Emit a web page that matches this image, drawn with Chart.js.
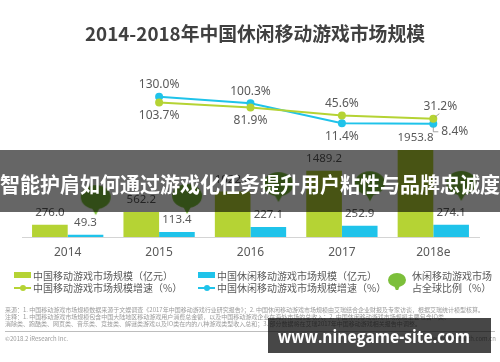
<!DOCTYPE html>
<html lang="zh-CN">
<head>
<meta charset="utf-8">
<script src="https://cdn.jsdelivr.net/npm/chart.js@4.4.1/dist/chart.umd.min.js"></script>
<style>
  html, body { margin: 0; padding: 0; background: #fff; }
  #wrap { position: relative; width: 500px; height: 362px; overflow: hidden;
          font-family: "Noto Sans CJK SC", "Noto Sans", sans-serif; color: #595959; }
  #box { position: absolute; left: 0; top: 0; width: 500px; height: 362px; }
  .abs { position: absolute; white-space: nowrap; }
  #title { left: 85px; top: 19px; font-size: 19px; font-weight: bold; color: #404040; transform-origin: 0 0; }
  .lg { font-size: 10px; line-height: 12px; color: #595959; }
  .sw { position: absolute; width: 17px; height: 6px; }
  .ln { position: absolute; width: 17px; height: 2px; }
  .dot { position: absolute; width: 6px; height: 6px; border-radius: 50%; }
  .note { font-size: 6px; line-height: 7px; color: #9a9a9a; left: 5px; }
  #rule { position: absolute; left: 5px; width: 490px; top: 331px; height: 1px; background: #bdbdbd; }
  #band { position: absolute; left: 0; top: 150px; width: 500px; height: 62px; background: rgba(0,0,0,0.6); }
  #bandText { left: 0; top: 167px; font-size: 21px; line-height: 32px; font-weight: bold; color: #fff; transform-origin: 0 0; }
  #mark { position: absolute; left: 268px; top: 318px; width: 223px; height: 35px; background: rgba(0,0,0,0.72); }
  #markText { left: 278px; top: 326px; font-family: "Open Sans", sans-serif;
              font-weight: bold; font-size: 17px; line-height: 22px; color: #fff; transform-origin: 0 0; }
</style>
</head>
<body>
<div id="wrap">
  <div id="box"><canvas id="chart"></canvas></div>
  <div id="title" class="abs">2014-2018年中国休闲移动游戏市场规模</div>

  <!-- legend -->
  <div class="sw" style="left:14px;top:272px;background:#b5d334"></div>
  <div class="abs lg" style="left:33px;top:270px">中国移动游戏市场规模（亿元）</div>
  <div class="sw" style="left:198px;top:272px;background:#1fc3ea"></div>
  <div class="abs lg" style="left:217px;top:270px">中国休闲移动游戏市场规模（亿元）</div>
  <div class="ln" style="left:14px;top:287px;background:#b5d334"></div>
  <div class="dot" style="left:20px;top:285px;background:#b5d334"></div>
  <div class="abs lg" style="left:33px;top:282px">中国移动游戏市场规模增速（%）</div>
  <div class="ln" style="left:198px;top:287px;background:#1fc3ea"></div>
  <div class="dot" style="left:204px;top:285px;background:#1fc3ea"></div>
  <div class="abs lg" style="left:217px;top:282px">中国休闲移动游戏市场规模增速（%）</div>
  <canvas id="legendBubble" class="abs" width="20" height="18" style="left:387px;top:272px"></canvas>
  <div class="abs lg" style="left:412px;top:270px">休闲移动游戏市场</div>
  <div class="abs lg" style="left:412px;top:282px">占全球比例（%）</div>

  <!-- notes -->
  <div class="abs note" style="top:306px">来源：1. 中国移动游戏市场规模数据来源于文娱调查《2017年中国移动游戏行业研究报告》；2. 中国休闲移动游戏市场规模由艾瑞结合企业财报及专家访谈，根据艾瑞统计模型核算。</div>
  <div class="abs note" style="top:313px">注释：1. 中国移动游戏市场规模包含中国大陆地区移动游戏用户消费总金额，以及中国移动游戏企业在海外市场的总收入；2. 中国休闲移动游戏市场规模主要包含IO类、</div>
  <div class="abs note" style="top:320px">消除类、跑酷类、网页类、音乐类、竞技类、解谜类游戏以及IO类在内的八种游戏类型收入总和；3. 部分数据将在艾瑞2017年中国移动游戏相关报告中调整。</div>
  <div id="rule"></div>
  <div class="abs note" style="top:335px">©2018.2 iResearch Inc.</div>
  <div class="abs note" style="top:335px;left:auto;right:4px">www.iresearch.com.cn</div>

  <div id="band"></div>
  <div id="bandText" class="abs">智能护肩如何通过游戏化任务提升用户粘性与品牌忠诚度</div>
  <div id="mark"></div>
  <div id="markText" class="abs">www.ninegame-site.com</div>
</div>

<script>
var years = ['2014', '2015', '2016', '2017', '2018e'];
var mobileMarket = [276.0, 562.2, 1022.6, 1489.2, 1953.8];
var casualMarket = [49.3, 113.4, 227.1, 252.9, 274.1];
var mobileGrowth = [null, 103.7, 81.9, 45.6, 31.2];
var casualGrowth = [null, 130.0, 100.3, 11.4, 8.4];
var casualShare = [22.1, 22.8, 29.9, 30.4, 30.6];

var green = '#b5d334';
var cyan = '#1fc3ea';
var bubbleGreen = '#7cbf3a';

// squeeze a text block to a given pixel width
function fitWidth(id, w) {
  var el = document.getElementById(id);
  el.style.transform = 'scaleX(' + (w / el.getBoundingClientRect().width) + ')';
}
fitWidth('title', 340);
fitWidth('bandText', 500);
fitWidth('markText', 192);

function drawBubble(ctx, cx, cy, rx, ry) {
  ctx.fillStyle = bubbleGreen;
  ctx.beginPath();
  ctx.ellipse(cx, cy, rx, ry, 0, 0, Math.PI * 2);
  ctx.fill();
  ctx.beginPath();
  ctx.moveTo(cx - rx * 0.35, cy + ry * 0.7);
  ctx.lineTo(cx + rx * 0.35, cy + ry * 0.7);
  ctx.lineTo(cx, cy + ry + 6);
  ctx.closePath();
  ctx.fill();
}

// point image: bubble sits to the right of the category centre
var bubbleImg = document.createElement('canvas');
bubbleImg.width = 88;
bubbleImg.height = 34;
drawBubble(bubbleImg.getContext('2d'), 72, 14, 15, 12);

var lb = document.getElementById('legendBubble').getContext('2d');
drawBubble(lb, 10, 8, 9, 7);

var labelPlugin = {
  id: 'valueLabels',
  afterDatasetsDraw: function (chart) {
    var ctx = chart.ctx;
    ctx.save();
    ctx.fillStyle = '#595959';
    ctx.textAlign = 'center';
    ctx.textBaseline = 'middle';
    ctx.font = '11.5px "Noto Sans", sans-serif';
    [0, 1].forEach(function (di) {
      chart.getDatasetMeta(di).data.forEach(function (bar, i) {
        ctx.fillText(chart.data.datasets[di].data[i].toFixed(1), bar.x, bar.y - 12);
      });
    });

    var side = {
      2: ['', 'below', 'below', 'above', 'aboveRight'],
      3: ['', 'above', 'above', 'below', 'right']
    };
    ctx.font = '12px "Noto Sans", sans-serif';
    [2, 3].forEach(function (di) {
      chart.getDatasetMeta(di).data.forEach(function (pt, i) {
        var v = chart.data.datasets[di].data[i];
        if (v === null) return;
        var txt = v.toFixed(1) + '%';
        var s = side[di][i];
        ctx.strokeStyle = '#8c8c8c';
        ctx.lineWidth = 0.8;
        if (s === 'above') {
          ctx.fillText(txt, pt.x, pt.y - 12);
        } else if (s === 'below') {
          ctx.fillText(txt, pt.x, pt.y + 13);
        } else if (s === 'aboveRight') {
          ctx.beginPath();
          ctx.moveTo(pt.x + 2, pt.y - 2);
          ctx.lineTo(pt.x + 6, pt.y - 5);
          ctx.stroke();
          ctx.fillText(txt, pt.x + 7, pt.y - 12);
        } else if (s === 'right') {
          ctx.beginPath();
          ctx.moveTo(pt.x, pt.y + 3);
          ctx.lineTo(pt.x, pt.y + 8);
          ctx.lineTo(pt.x + 5, pt.y + 8);
          ctx.stroke();
          ctx.textAlign = 'left';
          ctx.fillText(txt, pt.x + 8, pt.y + 8);
          ctx.textAlign = 'center';
        }
      });
    });
    ctx.restore();
  }
};

var chart = new Chart(document.getElementById('chart').getContext('2d'), {
  type: 'bar',
  data: {
    labels: years,
    datasets: [
      {
        label: '中国移动游戏市场规模（亿元）',
        data: mobileMarket,
        backgroundColor: green,
        yAxisID: 'y',
        order: 3
      },
      {
        label: '中国休闲移动游戏市场规模（亿元）',
        data: casualMarket,
        backgroundColor: cyan,
        yAxisID: 'y',
        order: 3
      },
      {
        type: 'line',
        label: '中国移动游戏市场规模增速（%）',
        data: mobileGrowth,
        borderColor: green,
        backgroundColor: green,
        borderWidth: 2,
        pointRadius: 3,
        yAxisID: 'y1',
        order: 1
      },
      {
        type: 'line',
        label: '中国休闲移动游戏市场规模增速（%）',
        data: casualGrowth,
        borderColor: cyan,
        backgroundColor: cyan,
        borderWidth: 2,
        pointRadius: 3,
        yAxisID: 'y1',
        order: 1
      },
      {
        type: 'line',
        label: '休闲移动游戏市场占全球比例（%）',
        data: casualShare,
        showLine: false,
        pointStyle: bubbleImg,
        yAxisID: 'y2',
        order: 2
      }
    ]
  },
  options: {
    responsive: true,
    maintainAspectRatio: false,
    animation: false,
    layout: { padding: { left: 22, right: 21, top: 70, bottom: 103 } },
    datasets: { bar: { categoryPercentage: 0.78, barPercentage: 1 } },
    plugins: { legend: { display: false }, tooltip: { enabled: false } },
    scales: {
      x: {
        grid: { display: false, drawTicks: false },
        border: { display: true, color: '#d4d4d4', width: 1 },
        ticks: { padding: 8, color: '#595959', font: { size: 12, family: '"Noto Sans", sans-serif' } },
        afterFit: function (s) { s.height = 22; }
      },
      y: { display: false, min: 0, max: 3750 },
      y1: { display: false, min: -500, max: 250 },
      y2: { display: false, min: 0, max: 100 }
    }
  },
  plugins: [labelPlugin]
});
</script>
</body>
</html>
